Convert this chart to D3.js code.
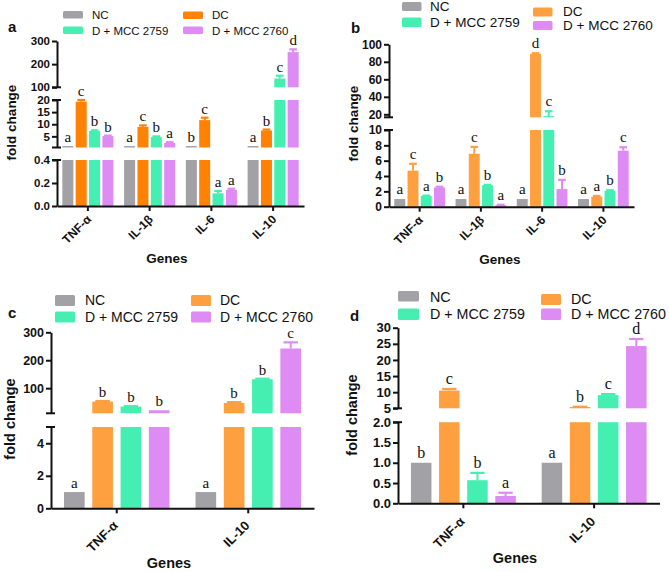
<!DOCTYPE html>
<html><head><meta charset="utf-8">
<script src="https://cdn.jsdelivr.net/npm/d3@7"></script>
<style>body{margin:0;background:#fff}svg{display:block}</style>
</head><body><svg id="chart" width="669" height="572"></svg>
<script>
// ---------- DATA ----------
const series = ["NC", "DC", "D + MCC 2759", "D + MCC 2760"];
const genesAB = ["TNF-α", "IL-1β", "IL-6", "IL-10"];
const genesCD = ["TNF-α", "IL-10"];

// panel a
const aNC   = [1, 1, 1, 1];
const aDC   = [19.3, 8.9, 11.7, 7.4];
const a2759 = [7.2, 4.7, 0.11, 138];
const a2760 = [5.1, 2.3, 0.14, 252];
const aNCerr   = [0, 0, 0, 0];
const aDCerr   = [0.8, 0.6, 1.0, 0.4];
const a2759err = [0.3, 0.3, 0.02, 12];
const a2760err = [0.2, 0.3, 0.01, 12];
const aNCsig   = ["a", "a", "b", "a"];
const aDCsig   = ["c", "c", "c", "b"];
const a2759sig = ["b", "b", "a", "c"];
const a2760sig = ["b", "a", "a", "d"];
const aTicksLow = [0, 0.2, 0.4];
const aTicksMid = [5, 10, 15, 20];
const aTicksTop = [100, 200, 300];

// panel b
const bNC   = [1, 1, 1, 1];
const bDC   = [4.7, 6.9, 89, 1.3];
const b2759 = [1.4, 2.8, 18, 2.1];
const b2760 = [2.5, 0.2, 2.3, 7.3];
const bNCerr   = [0, 0, 0, 0];
const bDCerr   = [0.9, 0.9, 0.8, 0.1];
const b2759err = [0.05, 0.05, 5.5, 0.05];
const b2760err = [0.1, 0.05, 1.2, 0.45];
const bNCsig   = ["a", "a", "a", "a"];
const bDCsig   = ["c", "c", "d", "a"];
const b2759sig = ["a", "b", "c", "b"];
const b2760sig = ["b", "a", "b", "c"];
const bTicksLow = [0, 2, 4, 6, 8, 10];
const bTicksTop = [20, 40, 60, 80, 100];

// panel c
const cNC   = [1, 1];
const cDC   = [52, 47];
const c2759 = [34, 132];
const c2760 = [21, 242];
const cNCerr   = [0, 0];
const cDCerr   = [2, 3];
const c2759err = [1.5, 2];
const c2760err = [1, 22];
const cNCsig   = ["a", "a"];
const cDCsig   = ["b", "b"];
const c2759sig = ["b", "b"];
const c2760sig = ["b", "c"];
const cTicksLow = [0, 2, 4];
const cTicksTop = [100, 200, 300];

// panel d
const dNC   = [1, 1];
const dDC   = [10.5, 5.4];
const d2759 = [0.57, 9.1];
const d2760 = [0.18, 24.3];
const dNCerr   = [0, 0];
const dDCerr   = [0.5, 0.1];
const d2759err = [0.18, 0.3];
const d2760err = [0.08, 2.2];
const dNCsig   = ["b", "a"];
const dDCsig   = ["c", "b"];
const d2759sig = ["b", "c"];
const d2760sig = ["a", "d"];
const dTicksLow = [0, 0.5, 1.0, 1.5, 2.0];
const dTicksTop = [5, 10, 15, 20, 25, 30];

// ---------- DRAWING ----------
const svg = d3.select("#chart");
const SANS = "'Liberation Sans', Arial, Helvetica, sans-serif";
const SERIF = "'Liberation Serif', 'Times New Roman', serif";
const GRAY = "#a2a1a6", GREEN = "#45efb1", PURPLE = "#de8bf4";

function drawPanel(cfg) {
  const g = svg.append("g");
  const x0 = d3.scaleBand().domain(cfg.genes).range([cfg.axisX, cfg.xEnd]);
  const x1 = d3.scaleBand().domain(series).range([0, x0.bandwidth()])
    .paddingInner(cfg.pi).paddingOuter(cfg.po);
  const segs = cfg.segs.map(s => Object.assign({}, s, {
    y: d3.scaleLinear().domain(s.domain).range(s.range)
  }));
  const bw = x1.bandwidth();

  cfg.values.forEach((vals, si) => {
    const col = cfg.colors[si];
    vals.forEach((v, gi) => {
      const bx = x0(cfg.genes[gi]) + x1(series[si]);
      segs.forEach((s, k) => {
        const lo = s.domain[0], hi = s.domain[1];
        if (k > 0 && v <= lo) return;
        const top = Math.min(v, hi);
        g.append("rect").attr("x", bx).attr("width", bw)
          .attr("y", s.y(top)).attr("height", Math.max(0, s.range[0] - s.y(top)))
          .attr("fill", col);
      });
      let sIdx = segs.findIndex(s => v <= s.domain[1]);
      if (sIdx < 0) sIdx = segs.length - 1;
      const s = segs[sIdx];
      const e = cfg.errors[si][gi];
      const yTop = s.y(Math.min(v, s.domain[1]));
      const yErr = s.y(Math.min(v + e, s.domain[1]));
      const cx = bx + bw / 2;
      if (e > 0 && yTop - yErr > 0.3) {
        g.append("line").attr("x1", cx).attr("x2", cx).attr("y1", yTop).attr("y2", yErr)
          .attr("stroke", col).attr("stroke-width", 2);
        g.append("line").attr("x1", cx - bw * 0.35).attr("x2", cx + bw * 0.35)
          .attr("y1", yErr).attr("y2", yErr).attr("stroke", col).attr("stroke-width", 2.2);
      }
      g.append("text").attr("x", cx).attr("y", yErr - cfg.sigGap)
        .attr("text-anchor", "middle").attr("font-family", SERIF)
        .attr("font-size", cfg.sigSize).attr("fill", "#111").text(cfg.sig[si][gi]);
    });
  });

  // y axes (one per segment)
  segs.forEach((s, k) => {
    const ax = g.append("g").attr("transform", `translate(${cfg.axisX},0)`)
      .call(d3.axisLeft(s.y).tickValues(s.ticks).tickFormat(d3.format(s.fmt))
        .tickSize(5).tickSizeOuter(0));
    ax.attr("font-family", SANS).attr("font-size", cfg.tickSize).attr("font-weight", "bold");
    ax.selectAll("path,line").attr("stroke", "#111").attr("stroke-width", 2);
    ax.selectAll("text").attr("fill", "#111").attr("x", -7);
    const marks = [];
    if (k < segs.length - 1) marks.push(s.range[1]);
    if (k > 0) marks.push(s.range[0]);
    marks.forEach(my => {
      g.append("line").attr("x1", cfg.axisX - 5).attr("x2", cfg.axisX + 4)
        .attr("y1", my).attr("y2", my).attr("stroke", "#111").attr("stroke-width", 2);
    });
  });

  // x axis
  const xa = g.append("g").attr("transform", `translate(0,${segs[0].range[0]})`)
    .call(d3.axisBottom(x0).tickSize(5).tickSizeOuter(0));
  xa.attr("font-family", SANS).attr("font-size", cfg.xTickSize).attr("font-weight", "bold");
  xa.selectAll("path,line").attr("stroke", "#111").attr("stroke-width", 2);
  xa.selectAll("text").attr("x", 0).attr("y", 0).attr("dy", null).attr("fill", "#111")
    .attr("transform", `translate(${cfg.labDx},${cfg.labDy}) rotate(-45)`)
    .style("text-anchor", "end");

  // axis titles
  g.append("text").attr("transform", `translate(${cfg.yTitle[0]},${cfg.yTitle[1]}) rotate(-90)`)
    .attr("text-anchor", "middle").attr("font-family", SANS).attr("font-weight", "bold")
    .attr("font-size", cfg.titleSize).attr("fill", "#111").text("fold change");
  g.append("text").attr("x", cfg.xTitle[0]).attr("y", cfg.xTitle[1])
    .attr("text-anchor", "middle").attr("font-family", SANS).attr("font-weight", "bold")
    .attr("font-size", cfg.titleSize).attr("fill", "#111").text("Genes");

  // panel letter
  g.append("text").attr("x", cfg.letter[0]).attr("y", cfg.letter[1])
    .attr("font-family", SANS).attr("font-weight", "bold").attr("font-size", 15)
    .attr("fill", "#111").text(cfg.letter[2]);

  // legend
  cfg.legend.forEach((L, i) => {
    g.append("rect").attr("x", L[0]).attr("y", L[1]).attr("width", L[2]).attr("height", L[3])
      .attr("rx", 1.5).attr("fill", cfg.colors[i]);
    g.append("text").attr("x", L[4]).attr("y", L[5]).attr("font-family", SANS)
      .attr("font-size", cfg.legendSize).attr("fill", "#111").text(series[i]);
  });
}

drawPanel({
  genes: genesAB, axisX: 57, xEnd: 304, pi: 0.175, po: 0.4,
  colors: [GRAY, "#ff8205", GREEN, PURPLE],
  values: [aNC, aDC, a2759, a2760],
  errors: [aNCerr, aDCerr, a2759err, a2760err],
  sig: [aNCsig, aDCsig, a2759sig, a2760sig],
  segs: [
    {domain: [0, 0.4], range: [206, 160], ticks: aTicksLow, fmt: ".1f"},
    {domain: [0.4, 20], range: [147.5, 100], ticks: aTicksMid, fmt: "d"},
    {domain: [100, 300], range: [87.3, 41], ticks: aTicksTop, fmt: "d"}
  ],
  sigGap: 4, sigSize: 15, tickSize: 11.5, xTickSize: 12, labDx: 4, labDy: 14,
  titleSize: 13.5, yTitle: [16, 122.5], xTitle: [167, 263],
  letter: [8, 31.5, "a"], legendSize: 11.5,
  legend: [[63, 11, 20, 7.5, 92, 19.3], [183, 11.5, 20, 7.5, 212, 19.3],
           [63, 26.5, 20, 7.5, 92, 35], [183, 26.5, 20, 7.5, 212, 35]]
});

drawPanel({
  genes: genesAB, axisX: 389, xEnd: 634, pi: 0.175, po: 0.4,
  colors: [GRAY, "#fea040", GREEN, PURPLE],
  values: [bNC, bDC, b2759, b2760],
  errors: [bNCerr, bDCerr, b2759err, b2760err],
  sig: [bNCsig, bDCsig, b2759sig, b2760sig],
  segs: [
    {domain: [0, 10], range: [206.7, 130], ticks: bTicksLow, fmt: "d"},
    {domain: [16.6, 100], range: [117.3, 44.3], ticks: bTicksTop, fmt: "d"}
  ],
  sigGap: 5, sigSize: 15, tickSize: 12, xTickSize: 12, labDx: 4, labDy: 14,
  titleSize: 13.5, yTitle: [358, 123.5], xTitle: [500, 264],
  letter: [351, 33, "b"], legendSize: 13.5,
  legend: [[402, 2, 19.5, 9, 430, 10.5], [533, 7.5, 19.5, 9, 563, 15.5],
           [402, 17.5, 19.5, 9.5, 430, 27], [533, 21, 19.5, 9, 563, 29.5]]
});

drawPanel({
  genes: genesCD, axisX: 51, xEnd: 314, pi: 0.27, po: 0.46,
  colors: [GRAY, "#fea040", GREEN, PURPLE],
  values: [cNC, cDC, c2759, c2760],
  errors: [cNCerr, cDCerr, c2759err, c2760err],
  sig: [cNCsig, cDCsig, c2759sig, c2760sig],
  segs: [
    {domain: [0, 5], range: [508.3, 427], ticks: cTicksLow, fmt: "d"},
    {domain: [10, 300], range: [413.3, 332.3], ticks: cTicksTop, fmt: "d"}
  ],
  sigGap: 4, sigSize: 15, tickSize: 12.5, xTickSize: 13, labDx: 2, labDy: 18,
  titleSize: 14.5, yTitle: [15, 419], xTitle: [169, 568],
  letter: [8, 318, "c"], legendSize: 14,
  legend: [[55, 295, 20, 11, 85, 305], [191, 295, 20, 11, 220, 305],
           [55, 311.5, 20, 11, 85, 321.5], [191, 311.5, 20, 11, 220, 321.5]]
});

drawPanel({
  genes: genesCD, axisX: 398, xEnd: 659.5, pi: 0.27, po: 0.46,
  colors: [GRAY, "#fea040", GREEN, PURPLE],
  values: [dNC, dDC, d2759, d2760],
  errors: [dNCerr, dDCerr, d2759err, d2760err],
  sig: [dNCsig, dDCsig, d2759sig, d2760sig],
  segs: [
    {domain: [0, 2], range: [503.3, 422.2], ticks: dTicksLow, fmt: ".1f"},
    {domain: [5, 30], range: [408.3, 327.7], ticks: dTicksTop, fmt: "d"}
  ],
  sigGap: 5, sigSize: 16, tickSize: 13, xTickSize: 13, labDx: 2, labDy: 19,
  titleSize: 14.5, yTitle: [357, 415], xTitle: [515, 563],
  letter: [350, 320.5, "d"], legendSize: 14.3,
  legend: [[398, 291, 21, 10.5, 430, 301.5], [541, 294, 20, 11, 571, 303.5],
           [398, 308.5, 21, 11.5, 430, 318.5], [541, 308.5, 20, 11.5, 571, 318.5]]
});
</script>
</body></html>
